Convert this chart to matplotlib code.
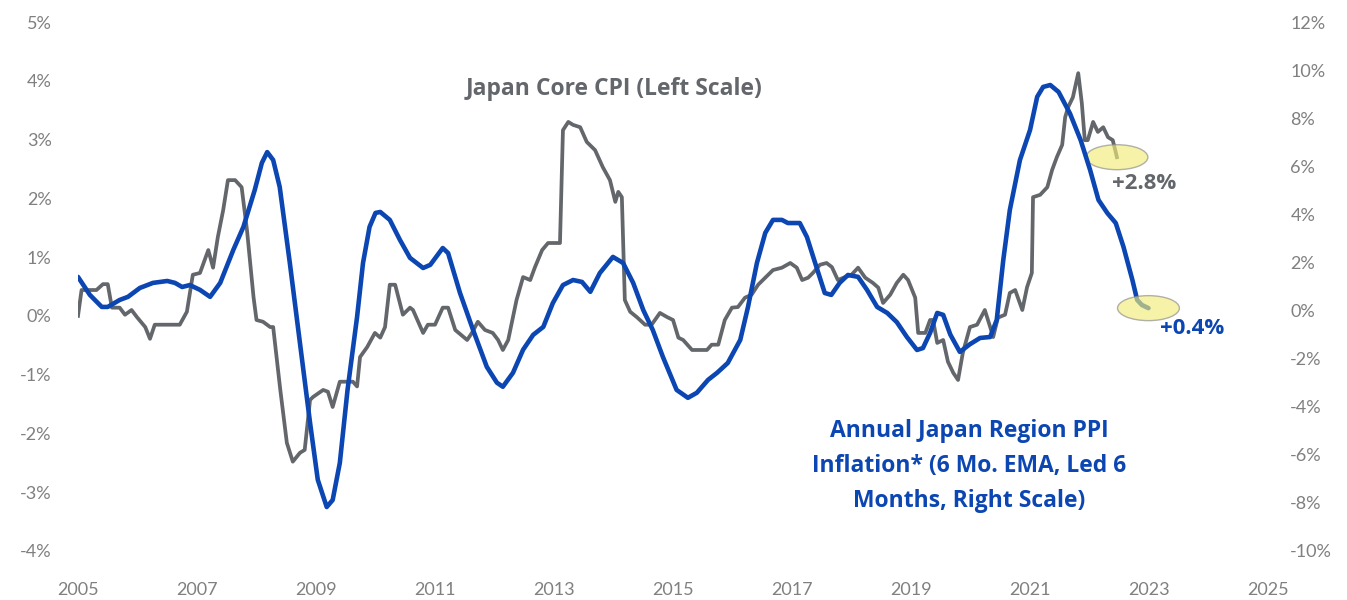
import matplotlib
matplotlib.use("Agg")
import matplotlib.pyplot as plt
from matplotlib.patches import Ellipse

plt.rcParams["font.family"] = ["Lato", "DejaVu Sans"]

# Japan Core CPI, y/y % (left scale)
cpi_x = [2005.00, 2005.06, 2005.31, 2005.42, 2005.50, 2005.57, 2005.70, 2005.79, 2005.90, 2005.99,
         2006.13, 2006.21, 2006.29, 2006.71, 2006.83, 2006.93, 2007.05, 2007.19, 2007.27, 2007.35,
         2007.44, 2007.52, 2007.64, 2007.75, 2007.84, 2007.95, 2008.00, 2008.11, 2008.23, 2008.28,
         2008.40, 2008.51, 2008.61, 2008.73, 2008.81, 2008.90, 2008.95, 2009.12, 2009.20, 2009.28,
         2009.40, 2009.62, 2009.69, 2009.74, 2009.86, 2009.99, 2010.08, 2010.16, 2010.24, 2010.33,
         2010.46, 2010.58, 2010.63, 2010.80, 2010.88, 2011.00, 2011.13, 2011.22, 2011.34, 2011.54,
         2011.62, 2011.72, 2011.84, 2011.97, 2012.06, 2012.14, 2012.23, 2012.37, 2012.48, 2012.60,
         2012.68, 2012.80, 2012.90, 2013.10, 2013.15, 2013.24, 2013.32, 2013.44, 2013.55, 2013.69,
         2013.82, 2013.94, 2014.03, 2014.08, 2014.14, 2014.19, 2014.28, 2014.39, 2014.53, 2014.64,
         2014.78, 2014.90, 2015.00, 2015.09, 2015.17, 2015.32, 2015.57, 2015.65, 2015.76, 2015.87,
         2015.99, 2016.09, 2016.21, 2016.32, 2016.43, 2016.55, 2016.68, 2016.83, 2016.97, 2017.08,
         2017.17, 2017.27, 2017.35, 2017.47, 2017.58, 2017.67, 2017.77, 2017.89, 2018.00, 2018.11,
         2018.23, 2018.36, 2018.45, 2018.53, 2018.65, 2018.76, 2018.87, 2018.95, 2019.07, 2019.12,
         2019.24, 2019.32, 2019.37, 2019.44, 2019.54, 2019.62, 2019.71, 2019.79, 2019.87, 2019.99,
         2020.11, 2020.24, 2020.33, 2020.38, 2020.46, 2020.58, 2020.66, 2020.75, 2020.87, 2020.95,
         2021.03, 2021.05, 2021.17, 2021.29, 2021.37, 2021.45, 2021.54, 2021.59, 2021.64, 2021.72,
         2021.81, 2021.87, 2021.92, 2021.97, 2022.06, 2022.14, 2022.23, 2022.31, 2022.39, 2022.46]
cpi_y = [0.00, 0.44, 0.44, 0.54, 0.54, 0.14, 0.14, 0.02, 0.10, -0.02,
         -0.19, -0.39, -0.15, -0.15, 0.07, 0.70, 0.73, 1.12, 0.82, 1.34,
         1.80, 2.31, 2.31, 2.19, 1.46, 0.32, -0.07, -0.10, -0.19, -0.19,
         -1.26, -2.16, -2.48, -2.33, -2.28, -1.43, -1.38, -1.26, -1.29, -1.55,
         -1.12, -1.12, -1.20, -0.70, -0.53, -0.29, -0.37, -0.19, 0.53, 0.53,
         0.02, 0.14, 0.10, -0.29, -0.15, -0.15, 0.14, 0.14, -0.24, -0.41,
         -0.29, -0.10, -0.24, -0.29, -0.41, -0.58, -0.41, 0.27, 0.66, 0.61,
         0.83, 1.12, 1.24, 1.24, 3.16, 3.30, 3.25, 3.21, 2.96, 2.82,
         2.53, 2.31, 1.94, 2.11, 2.02, 0.27, 0.07, -0.02, -0.15, -0.15,
         0.05, -0.02, -0.07, -0.37, -0.41, -0.58, -0.58, -0.49, -0.49, -0.07,
         0.14, 0.15, 0.31, 0.36, 0.53, 0.65, 0.78, 0.82, 0.90, 0.82,
         0.61, 0.65, 0.73, 0.87, 0.90, 0.83, 0.61, 0.66, 0.70, 0.82,
         0.65, 0.56, 0.48, 0.22, 0.36, 0.56, 0.70, 0.61, 0.31, -0.29,
         -0.29, -0.07, -0.07, -0.46, -0.41, -0.78, -0.97, -1.09, -0.63, -0.19,
         -0.15, 0.10, -0.19, -0.36, -0.03, 0.02, 0.39, 0.44, 0.10, 0.49,
         0.73, 2.02, 2.06, 2.19, 2.48, 2.70, 2.91, 3.38, 3.55, 3.72,
         4.13, 3.62, 2.99, 2.99, 3.30, 3.13, 3.21, 3.04, 2.99, 2.70]

# Japan region PPI inflation, 6 mo. EMA, led 6 months (right scale)
ppi_x = [2005.00, 2005.20, 2005.40, 2005.50, 2005.70, 2005.84, 2006.04, 2006.26, 2006.50, 2006.63,
         2006.75, 2006.88, 2007.05, 2007.22, 2007.39, 2007.61, 2007.78, 2007.97, 2008.09, 2008.18,
         2008.28, 2008.39, 2008.56, 2008.73, 2008.90, 2009.03, 2009.18, 2009.28, 2009.40, 2009.53,
         2009.69, 2009.79, 2009.90, 2010.00, 2010.08, 2010.24, 2010.41, 2010.58, 2010.80, 2010.92,
         2011.13, 2011.22, 2011.42, 2011.64, 2011.87, 2012.04, 2012.14, 2012.31, 2012.48, 2012.65,
         2012.82, 2012.98, 2013.15, 2013.32, 2013.47, 2013.61, 2013.77, 2013.99, 2014.16, 2014.33,
         2014.50, 2014.66, 2014.83, 2015.06, 2015.25, 2015.40, 2015.59, 2015.74, 2015.92, 2016.13,
         2016.26, 2016.41, 2016.55, 2016.68, 2016.83, 2016.93, 2017.13, 2017.25, 2017.41, 2017.55,
         2017.66, 2017.80, 2017.94, 2018.11, 2018.26, 2018.43, 2018.60, 2018.76, 2018.93, 2019.10,
         2019.20, 2019.32, 2019.44, 2019.54, 2019.66, 2019.82, 2019.99, 2020.16, 2020.33, 2020.44,
         2020.55, 2020.66, 2020.83, 2021.00, 2021.12, 2021.22, 2021.34, 2021.48, 2021.67, 2021.85,
         2022.01, 2022.15, 2022.30, 2022.44, 2022.57, 2022.72, 2022.80, 2022.88, 2022.99]
ppi_y = [1.40, 0.65, 0.15, 0.15, 0.44, 0.57, 0.94, 1.15, 1.23, 1.15,
         0.98, 1.06, 0.86, 0.57, 1.15, 2.52, 3.48, 5.01, 6.14, 6.59,
         6.26, 5.14, 1.98, -1.35, -4.67, -7.04, -8.17, -7.88, -6.34, -3.30,
         -0.27, 1.98, 3.48, 4.06, 4.10, 3.77, 2.94, 2.19, 1.77, 1.90,
         2.60, 2.39, 0.73, -0.81, -2.34, -3.00, -3.17, -2.59, -1.63, -1.01,
         -0.68, 0.31, 1.06, 1.27, 1.19, 0.78, 1.56, 2.23, 1.98, 1.15,
         0.02, -0.81, -1.93, -3.30, -3.63, -3.42, -2.88, -2.59, -2.18, -1.22,
         0.15, 1.98, 3.23, 3.77, 3.77, 3.64, 3.64, 3.06, 1.81, 0.73,
         0.65, 1.15, 1.48, 1.40, 0.86, 0.15, -0.10, -0.48, -1.10, -1.64,
         -1.56, -0.93, -0.10, -0.18, -1.00, -1.72, -1.40, -1.14, -1.10, -0.39,
         2.10, 4.18, 6.26, 7.51, 8.89, 9.30, 9.38, 9.09, 8.20, 7.09,
         5.84, 4.60, 4.05, 3.64, 2.65, 1.27, 0.44, 0.23, 0.10]

year_ticks = [2005, 2007, 2009, 2011, 2013, 2015, 2017, 2019, 2021, 2023, 2025]
left_ticks = [-4, -3, -2, -1, 0, 1, 2, 3, 4, 5]
right_ticks = [-10, -8, -6, -4, -2, 0, 2, 4, 6, 8, 10, 12]

GRAY = "#63676b"
BLUE = "#0b46b2"
TICK = "#808080"
NOTE_FONT = ["Open Sans", "DejaVu Sans"]

fig = plt.figure(figsize=(13.47, 6.0), dpi=100)
ax = fig.add_axes([0.0579, 0.0817, 0.8835, 0.8816])
ax2 = ax.twinx()

ax.plot(cpi_x, cpi_y, color=GRAY, lw=2.7, solid_joinstyle="round")
ax2.plot(ppi_x, ppi_y, color=BLUE, lw=3.3, solid_joinstyle="round", solid_capstyle="round")

ax.set_xlim(2005, 2025)
ax.set_ylim(-4, 5)
ax2.set_ylim(-10, 12)
ax.set_xticks(year_ticks)
ax.set_xticklabels([str(y) for y in year_ticks])
ax.set_yticks(left_ticks)
ax.set_yticklabels([f"{v}%" for v in left_ticks])
ax2.set_yticks(right_ticks)
ax2.set_yticklabels([f"{v}%" for v in right_ticks])

for a in (ax, ax2):
    for s in a.spines.values():
        s.set_visible(False)
ax.tick_params(axis="x", length=0, pad=22, labelsize=13, labelcolor=TICK)
ax.tick_params(axis="y", length=0, pad=19, labelsize=13, labelcolor=TICK)
ax2.tick_params(axis="y", length=0, pad=16, labelsize=13, labelcolor=TICK)

# highlight the latest readings
ax.add_patch(Ellipse((cpi_x[-1], cpi_y[-1]), 1.04, 0.425, facecolor="#f2ec7a", alpha=0.65,
                     edgecolor="#8a8a8a", lw=1, zorder=3))
ax2.add_patch(Ellipse((ppi_x[-1], ppi_y[-1]), 1.04, 1.04, facecolor="#f2ec7a", alpha=0.65,
                      edgecolor="#8a8a8a", lw=1, zorder=3))
ax.annotate(f"+{cpi_y[-1] + 0.1:.1f}%", (cpi_x[-1], cpi_y[-1]), xytext=(-3.6, -18.7),
            textcoords="offset points", ha="left", va="center", fontsize=16,
            fontweight="bold", color=GRAY, family=NOTE_FONT)
ax2.annotate(f"+{ppi_y[-1] + 0.3:.1f}%", (ppi_x[-1], ppi_y[-1]), xytext=(8.6, -14.4),
             textcoords="offset points", ha="left", va="center", fontsize=16,
             fontweight="bold", color=BLUE, family=NOTE_FONT)

ax.text(0.450, 0.873, "Japan Core CPI (Left Scale)", transform=ax.transAxes,
        ha="center", va="center", fontsize=16.5, fontweight="bold", color=GRAY,
        family=NOTE_FONT)
ax.text(0.749, 0.161, "Annual Japan Region PPI\nInflation* (6 Mo. EMA, Led 6\nMonths, Right Scale)",
        transform=ax.transAxes, ha="center", va="center", fontsize=16.5, fontweight="bold",
        color=BLUE, linespacing=1.62, family=NOTE_FONT)

fig.savefig("out.png", dpi=100)
